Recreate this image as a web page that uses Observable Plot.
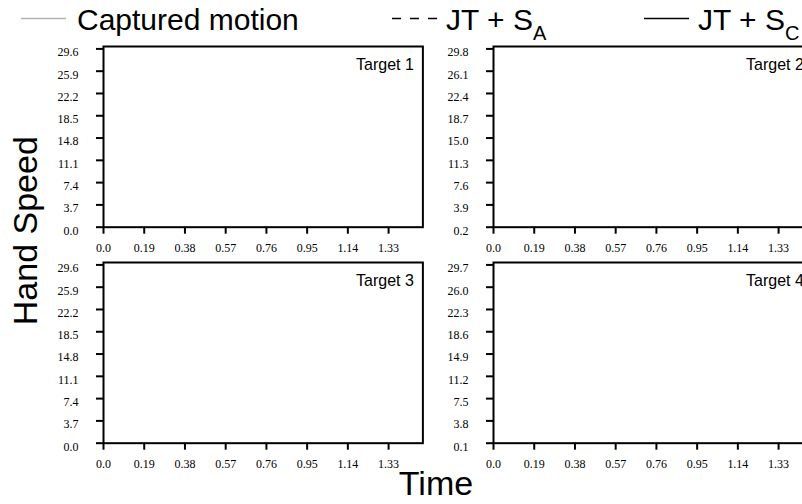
<!DOCTYPE html>
<html><head><meta charset="utf-8">
<script src="https://cdn.jsdelivr.net/npm/d3@7"></script>
<script src="https://cdn.jsdelivr.net/npm/@observablehq/plot@0.6"></script>
<style>
body{margin:0;background:#fff;}
#chart{position:relative;width:802px;height:504px;overflow:hidden;background:#fff;}
.panel{position:absolute;}
#overlay{position:absolute;left:0;top:0;}
</style></head><body>
<div id="chart"></div>
<script>
// ---- data ----
const targets = ["Target 1", "Target 2", "Target 3", "Target 4"];
const xTicks = [0, 0.19, 0.38, 0.57, 0.76, 0.95, 1.14, 1.33];
const xTickLabels = ["0.0", "0.19", "0.38", "0.57", "0.76", "0.95", "1.14", "1.33"];
const xMax = 1.49;
const yTicks1 = [0.0, 3.7, 7.4, 11.1, 14.8, 18.5, 22.2, 25.9, 29.6];
const yTicks2 = [0.2, 3.9, 7.6, 11.3, 15.0, 18.7, 22.4, 26.1, 29.8];
const yTicks3 = [0.0, 3.7, 7.4, 11.1, 14.8, 18.5, 22.2, 25.9, 29.6];
const yTicks4 = [0.1, 3.8, 7.5, 11.2, 14.9, 18.6, 22.3, 26.0, 29.7];
const seriesNames = ["Captured motion", "JT + S", "JT + S"];
const seriesSubs = ["", "A", "C"];
const xTitle = "Time";
const yTitle = "Hand Speed";

// ---- layout ----
const ML = 60, MR = 10, MT = 10, MB = 40, FW = 319.4, FH = 180.7;
const chart = document.getElementById("chart");
const panels = [
  {ticks: yTicks1, left: 103.3, top: 46},
  {ticks: yTicks2, left: 492.7, top: 46},
  {ticks: yTicks3, left: 103.3, top: 261.7},
  {ticks: yTicks4, left: 492.7, top: 261.7}
];

panels.forEach((pp, i) => {
  const yt = pp.ticks;
  const yTop = yt[yt.length - 1] + 0.4;
  const svg = Plot.plot({
    width: ML + FW + MR, height: MT + FH + MB,
    marginLeft: ML, marginRight: MR, marginTop: MT, marginBottom: MB,
    style: {fontFamily: "'Liberation Serif', 'Times New Roman', serif", fontSize: "12px", background: "transparent", color: "#000"},
    x: {domain: [0, xMax]},
    y: {domain: [yt[0], yTop]},
    marks: [
      Plot.frame({stroke: "#000", strokeWidth: 2}),
      Plot.axisX({ticks: xTicks, tickSize: 7, strokeWidth: 2, fill: "none", label: null}),
      Plot.axisX({ticks: xTicks, tickSize: 0, tickPadding: 16, tickFormat: d => xTickLabels[xTicks.indexOf(d)], fill: "#000", label: null}),
      Plot.axisY({ticks: yt, tickSize: 7, strokeWidth: 2, fill: "none", label: null}),
      Plot.axisY({ticks: yt, tickSize: 0, tickPadding: 25, dy: 3.5, tickFormat: d => d.toFixed(1), fill: "#000", label: null}),
      Plot.text([targets[i]], {text: d => d, frameAnchor: "top-right", textAnchor: "end", lineAnchor: "top", dx: -9, dy: 12,
        fontFamily: "'Liberation Sans', Arial, sans-serif", fontSize: 16, fill: "#000"})
    ]
  });
  svg.classList.add("panel");
  svg.style.left = (pp.left - ML) + "px";
  svg.style.top = (pp.top - MT) + "px";
  chart.appendChild(svg);
});

// ---- legend and axis titles ----
const ov = d3.create("svg").attr("id", "overlay").attr("width", 802).attr("height", 504)
  .style("font-family", "'Liberation Sans', Arial, sans-serif");
const legendItems = [
  {lx: 21, tx: 77, stroke: "#b5b5b5", dash: null},
  {lx: 392, tx: 446, stroke: "#000", dash: "9 9"},
  {lx: 644, tx: 698, stroke: "#000", dash: null}
];
legendItems.forEach((it, i) => {
  ov.append("line").attr("x1", it.lx).attr("x2", it.lx + 45).attr("y1", 18.5).attr("y2", 18.5)
    .attr("stroke", it.stroke).attr("stroke-width", 1.5).attr("stroke-dasharray", it.dash);
  const t = ov.append("text").attr("x", it.tx).attr("y", 30).attr("font-size", 30).attr("fill", "#000");
  t.append("tspan").text(seriesNames[i]);
  if (seriesSubs[i]) t.append("tspan").attr("font-size", 20).attr("dy", 10).text(seriesSubs[i]);
});
ov.append("text").attr("transform", "translate(37,230.7) rotate(-90)").attr("text-anchor", "middle")
  .attr("font-size", 34).attr("fill", "#000").text(yTitle);
ov.append("text").attr("x", 436).attr("y", 495).attr("text-anchor", "middle")
  .attr("font-size", 34).attr("fill", "#000").text(xTitle);
chart.appendChild(ov.node());
</script>
</body></html>
